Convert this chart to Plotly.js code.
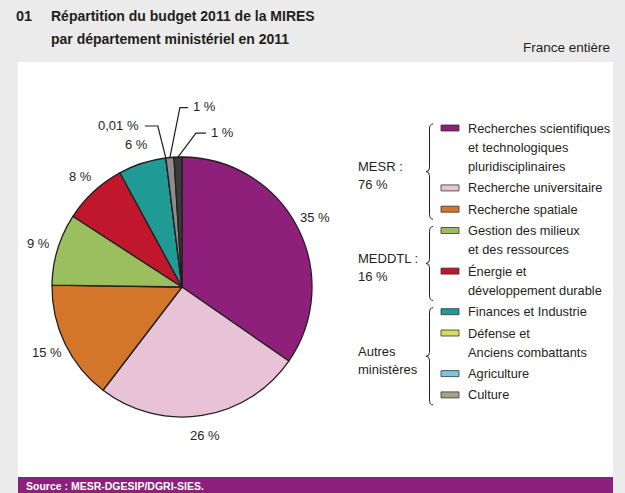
<!DOCTYPE html>
<html>
<head>
<meta charset="utf-8">
<script src="https://cdn.plot.ly/plotly-3.0.1.min.js"></script>
<style>html,body{margin:0;padding:0;background:#ebebeb;}#chart{width:625px;height:493px;}</style>
</head>
<body>
<div id="chart"></div>
<script>
// ---- Data ----
const categories = [
  "Recherches scientifiques<br>et technologiques<br>pluridisciplinaires",
  "Recherche universitaire",
  "Recherche spatiale",
  "Gestion des milieux<br>et des ressources",
  "Énergie et<br>développement durable",
  "Finances et Industrie",
  "Défense et<br>Anciens combattants",
  "Agriculture",
  "Culture"
];
const shares = [35, 26, 15, 9, 8, 6, 0.01, 1, 1];
const legendColors = ["#8e1f7b", "#e8c3d8", "#d4762a", "#9bbf5e", "#c0172d", "#1f9a94", "#d8dc5c", "#7cc4e4", "#a7a28c"];
const sliceColors  = ["#8e1f7b", "#e8c3d8", "#d4762a", "#9bbf5e", "#c0172d", "#1f9a94", "#d8dc5c", "#8c8c8c", "#3a3a3a"];
const groupNames = ["MESR :<br>76 %", "MEDDTL :<br>16 %", "Autres<br>ministères"];
const groupRanges = [[0, 2], [3, 4], [5, 8]];

// ---- Layout helpers ----
const W = 625, H = 493;
const px = x => x / W, py = y => 1 - y / H;
const cx = 182, cy = 287, R = 130;
const ink = "#231f20";
const FONT = "Liberation Sans, Arial, sans-serif";
const fmt = v => String(v).replace(".", ",") + " %";

const shapes = [];
const annotations = [];

// panel + source bar
shapes.push({type: "rect", xref: "paper", yref: "paper", x0: px(18), x1: px(613), y0: py(477), y1: py(62), fillcolor: "#ffffff", line: {width: 0}, layer: "below"});
shapes.push({type: "rect", xref: "paper", yref: "paper", x0: px(18), x1: px(613), y0: py(493), y1: py(477), fillcolor: "#8e1f7b", line: {width: 0}, layer: "below"});

function txt(text, x, y, opts) {
  annotations.push(Object.assign({
    text: text, xref: "paper", yref: "paper", x: px(x), y: py(y), showarrow: false,
    xanchor: "left", yanchor: "middle", align: "left",
    font: {family: FONT, size: 13, color: ink}
  }, opts || {}));
}
// titles
txt("<b>01</b>", 14, 16, {font: {family: FONT, size: 14.5, color: ink}});
txt("<b>Répartition du budget 2011 de la MIRES</b>", 49, 16, {font: {family: FONT, size: 14, color: ink}});
txt("<b>par département ministériel en 2011</b>", 49, 39, {font: {family: FONT, size: 14, color: ink}});
txt("France entière", 612, 47, {xanchor: "right", font: {family: FONT, size: 13.5, color: ink}});
txt("<b>Source : MESR-DGESIP/DGRI-SIES.</b>", 24, 486, {font: {family: FONT, size: 10.5, color: "#ffffff"}});

// pie labels, computed from data
const total = shares.reduce((a, b) => a + b, 0);
let cum = 0;
const labelR = 150;
const smallLeader = [
  {dx: -8, dy: -32, h: -13},
  {dx: 10, dy: -50, h: 8},
  {dx: 18, dy: -24, h: 10}
];
let smallIdx = 0;
shares.forEach((v, i) => {
  const mid = (cum + v / 2) / total;
  cum += v;
  const th = mid * 2 * Math.PI;
  if (v >= 2) {
    txt(fmt(v), cx + labelR * Math.sin(th), cy - labelR * Math.cos(th), {xanchor: "center"});
  } else {
    const ex = cx + R * Math.sin(th), ey = cy - R * Math.cos(th);
    const L = smallLeader[smallIdx++];
    const bx = ex + L.dx, by = ey + L.dy, tx = bx + L.h;
    shapes.push({type: "path", xref: "paper", yref: "paper",
      path: `M ${px(ex)} ${py(ey)} L ${px(bx)} ${py(by)} L ${px(tx)} ${py(by)}`,
      line: {color: ink, width: 1.2}});
    txt(fmt(v), tx + (L.h < 0 ? -4 : 3), by - 1, {xanchor: L.h < 0 ? "right" : "left"});
  }
});

// custom legend
const lineH = 19.3, itemGap = 21.3, legY0 = 128, swX0 = 441, swX1 = 459, textX = 466;
const firstLineY = [];
const lastLineY = [];
let y = legY0;
categories.forEach((c, i) => {
  const lines = c.split("<br>");
  firstLineY.push(y);
  shapes.push({type: "rect", xref: "paper", yref: "paper", x0: px(swX0), x1: px(swX1), y0: py(y + 3), y1: py(y - 3),
    fillcolor: legendColors[i], line: {color: "#333333", width: 0.8}});
  lines.forEach((ln, k) => {
    txt(ln, textX, y, {font: {family: FONT, size: 12.8, color: ink}});
    if (k < lines.length - 1) y += lineH;
  });
  lastLineY.push(y);
  y += itemGap;
});

// braces + group labels
groupRanges.forEach((g, gi) => {
  const top = firstLineY[g[0]] - 4, bot = lastLineY[g[1]] + 10, mid = (top + bot) / 2;
  const xe = 433, xv = 429.5, xt = 426;
  const p = `M ${px(xe)} ${py(top)} Q ${px(xv)} ${py(top)} ${px(xv)} ${py(top + 5)} L ${px(xv)} ${py(mid - 4)} Q ${px(xv)} ${py(mid)} ${px(xt)} ${py(mid)} Q ${px(xv)} ${py(mid)} ${px(xv)} ${py(mid + 4)} L ${px(xv)} ${py(bot - 5)} Q ${px(xv)} ${py(bot)} ${px(xe)} ${py(bot)}`;
  shapes.push({type: "path", xref: "paper", yref: "paper", path: p, line: {color: ink, width: 1}});
  const lines = groupNames[gi].split("<br>");
  txt(lines[0], 356, mid + 4 - 9, {font: {family: FONT, size: 13, color: ink}});
  txt(lines[1], 356, mid + 4 + 9, {font: {family: FONT, size: 13, color: ink}});
});

const data = [{
  type: "pie",
  labels: categories,
  values: shares,
  sort: false,
  direction: "clockwise",
  rotation: 0,
  textinfo: "none",
  hoverinfo: "label+value",
  marker: {colors: sliceColors, line: {color: ink, width: 1.3}},
  domain: {x: [px(cx - R), px(cx + R)], y: [py(cy + R), py(cy - R)]},
  showlegend: false
}];

const layout = {
  width: W, height: H,
  margin: {l: 0, r: 0, t: 0, b: 0},
  paper_bgcolor: "#ebebeb",
  showlegend: false,
  shapes: shapes,
  annotations: annotations
};

Plotly.newPlot("chart", data, layout, {displayModeBar: false, staticPlot: true});
</script>
</body>
</html>
